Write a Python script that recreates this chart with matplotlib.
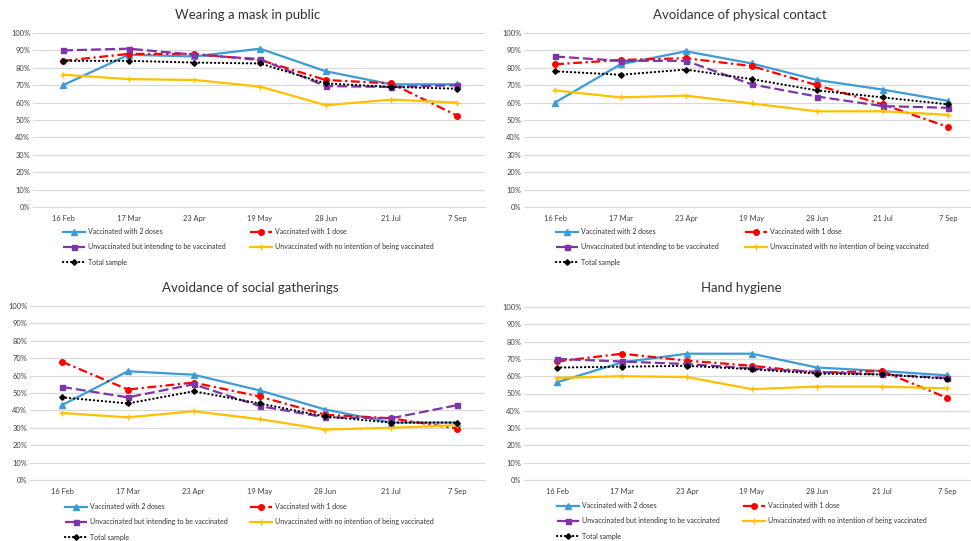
#!/usr/bin/env python3
# -*- coding: utf-8 -*-

import matplotlib
matplotlib.use("Agg")
import matplotlib.pyplot as plt
from matplotlib.ticker import FuncFormatter

plt.rcParams["font.family"] = ["Lato", "DejaVu Sans"]

# =====================================================
# Data
# =====================================================
fechas = ["16 Feb", "17 Mar", "23 Apr", "19 May", "28 Jun", "21 Jul", "7 Sep"]

series_nombres = [
    "Vaccinated with 2 doses",
    "Vaccinated with 1 dose",
    "Unvaccinated but intending to be vaccinated",
    "Unvaccinated with no intention of being vaccinated",
    "Total sample",
]

titulos = [
    "Wearing a mask in public",
    "Avoidance of physical contact",
    "Avoidance of social gatherings",
    "Hand hygiene",
]

# Wearing a mask in public
mask_2dosis = [70, 87.5, 86.5, 91, 78, 70.5, 70.5]
mask_1dosis = [84, 88, 88, 84.5, 73, 71, 52.5]
mask_intencion = [90, 91, 87.5, 85, 69.5, 69, 70]
mask_sin_intencion = [76, 73.5, 73, 69.2, 58.5, 61.7, 60]
mask_total = [84, 84, 83, 82.5, 71, 69, 68]

# Avoidance of physical contact
contacto_2dosis = [60, 82, 89.5, 82.5, 73, 67.5, 61]
contacto_1dosis = [82, 84.5, 85.5, 81, 70, 59, 46]
contacto_intencion = [86.5, 84, 84, 70.5, 63.5, 58, 57]
contacto_sin_intencion = [67, 63, 64, 59.5, 55, 55, 53]
contacto_total = [78, 76, 79, 73.5, 67, 63, 59]

# Avoidance of social gatherings
reunion_2dosis = [43, 62.5, 60.5, 51.5, 40.5, 33, 33]
reunion_1dosis = [68, 52, 56, 48, 37.5, 35.5, 29.5]
reunion_intencion = [53.5, 47.5, 55, 42.5, 36, 35.5, 43]
reunion_sin_intencion = [38.5, 36, 39.5, 35, 29, 30, 31.5]
reunion_total = [47.5, 44, 51, 44, 36.5, 33, 33]

# Hand hygiene
higiene_2dosis = [56.5, 68, 73, 73, 65, 63, 60.5]
higiene_1dosis = [68.5, 73, 69, 66, 62, 63, 47.5]
higiene_intencion = [70, 68.5, 67, 64.5, 62.5, 61, 59]
higiene_sin_intencion = [59, 60, 59.5, 52.5, 54, 54, 53]
higiene_total = [65, 65.5, 66, 64, 61.5, 61, 58.5]

paneles_datos = [
    [mask_2dosis, mask_1dosis, mask_intencion, mask_sin_intencion, mask_total],
    [contacto_2dosis, contacto_1dosis, contacto_intencion, contacto_sin_intencion, contacto_total],
    [reunion_2dosis, reunion_1dosis, reunion_intencion, reunion_sin_intencion, reunion_total],
    [higiene_2dosis, higiene_1dosis, higiene_intencion, higiene_sin_intencion, higiene_total],
]

# =====================================================
# Styles
# =====================================================
estilos = [
    dict(color="#3D9BD6", linestyle="-", marker="^", markersize=3.8),
    dict(color="#FF0000", linestyle=(0, (4, 1.6, 1, 1.6)), marker="o", markersize=4),
    dict(color="#7F35A8", linestyle=(0, (4.5, 1.8)), marker="s", markersize=3.6),
    dict(color="#FFC000", linestyle="-", marker="+", markersize=4, markeredgewidth=1),
    dict(color="#000000", linestyle=(0, (0.1, 1.7)), marker="D", markersize=2.8,
         dash_capstyle="round"),
]

W, H = 971, 541

# pixel layout: grid left/right/top/bottom, first and last category x, title, legend
layout = [
    dict(l=33, r=485, t=33, b=207, x0=63, x6=457, tx=248, ty=15,
         c1=63, c2=250, ly=232),
    dict(l=524, r=970, t=33, b=207, x0=555, x6=948, tx=740, ty=15,
         c1=556, c2=745, ly=232),
    dict(l=30, r=485, t=306, b=480, x0=62, x6=457, tx=250, ty=288,
         c1=65, c2=250, ly=507),
    dict(l=524, r=970, t=307, b=480, x0=557, x6=947, tx=741, ty=288,
         c1=557, c2=743, ly=506),
]


# =====================================================
# Draw one panel
# =====================================================
def dibujar_panel(fig, datos, titulo, lay):
    ax = fig.add_axes([lay["l"] / W, 1 - lay["b"] / H,
                       (lay["r"] - lay["l"]) / W, (lay["b"] - lay["t"]) / H])
    unidad = (lay["x6"] - lay["x0"]) / 6.0
    ax.set_xlim((lay["l"] - lay["x0"]) / unidad, (lay["r"] - lay["x0"]) / unidad)
    ax.set_ylim(0, 1)

    x = list(range(len(fechas)))
    lineas = []
    for valores, est in zip(datos, estilos):
        ln, = ax.plot(x, [v / 100.0 for v in valores], linewidth=1.6,
                      clip_on=False, zorder=3, **est)
        lineas.append(ln)

    ax.set_yticks([i / 10.0 for i in range(11)])
    ax.yaxis.set_major_formatter(FuncFormatter(lambda v, p: f"{v * 100:.0f}%"))
    ax.set_xticks(x)
    ax.set_xticklabels(fechas)
    ax.tick_params(axis="both", length=0, labelsize=5.4, colors="#404040")
    ax.tick_params(axis="y", pad=2)
    ax.tick_params(axis="x", pad=6)
    ax.grid(axis="y", color="#D9D9D9", linewidth=0.8, zorder=0)
    for s in ["top", "right", "left"]:
        ax.spines[s].set_visible(False)
    ax.spines["bottom"].set_color("#D9D9D9")
    ax.spines["bottom"].set_linewidth(0.8)

    fig.text(lay["tx"] / W, 1 - lay["ty"] / H, titulo, ha="center", va="center",
             fontsize=9.5, color="#333333")

    # legend in two columns, rows ordered as in the original
    opciones = dict(frameon=False, fontsize=5, handlelength=3.2,
                    handletextpad=0.4, labelspacing=1.2, borderpad=0,
                    borderaxespad=0, loc="upper left", labelcolor="#333333")
    izq = [0, 2, 4]
    der = [1, 3]
    leg1 = ax.legend([lineas[i] for i in izq], [series_nombres[i] for i in izq],
                     bbox_to_anchor=(lay["c1"] / W, 1 - (lay["ly"] - 4) / H),
                     bbox_transform=fig.transFigure, **opciones)
    ax.add_artist(leg1)
    ax.legend([lineas[i] for i in der], [series_nombres[i] for i in der],
              bbox_to_anchor=(lay["c2"] / W, 1 - (lay["ly"] - 4) / H),
              bbox_transform=fig.transFigure, **opciones)


# =====================================================
# MAIN
# =====================================================
if __name__ == "__main__":
    fig = plt.figure(figsize=(W / 100, H / 100), dpi=100)
    for datos, titulo, lay in zip(paneles_datos, titulos, layout):
        dibujar_panel(fig, datos, titulo, lay)
    fig.savefig("out.png", dpi=100)
    plt.close(fig)
